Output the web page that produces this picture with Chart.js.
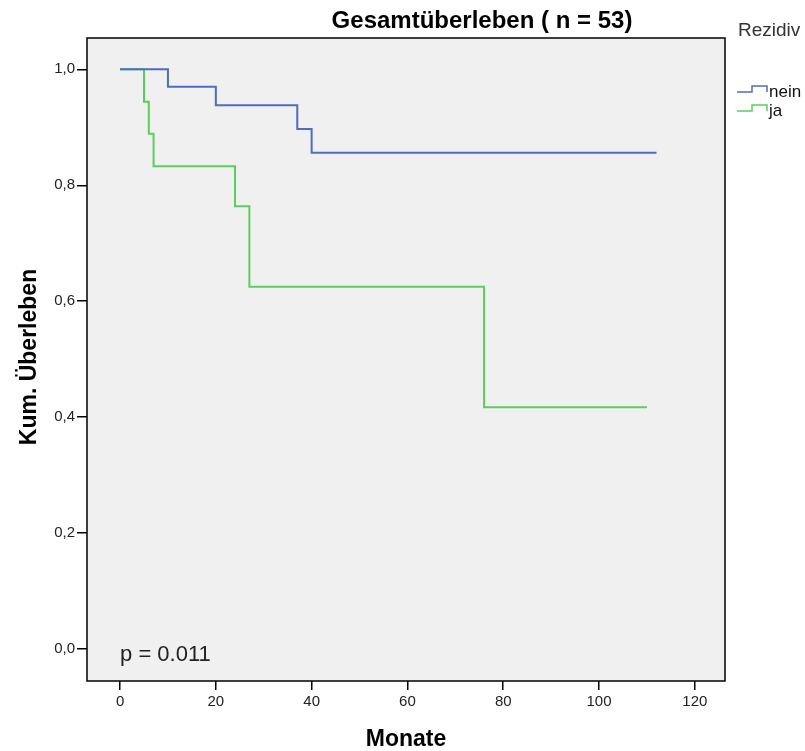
<!DOCTYPE html>
<html>
<head>
<meta charset="utf-8">
<script src="https://cdn.jsdelivr.net/npm/chart.js@4"></script>
<style>
  html, body { margin: 0; padding: 0; background: #fff; }
  #wrap { width: 805px; height: 751px; }
</style>
</head>
<body>
<div id="wrap"><canvas id="chartKM" width="805" height="751"></canvas></div>
<script>
const chartTitle = "Gesamtüberleben ( n = 53)";
const legendTitle = "Rezidiv";
const groupNames = ["nein", "ja"];
const groupColors = ["#4f6dc0", "#5ccd5c"];

// Monate / kum. Überleben
const neinTimes = [0, 10, 20, 37, 40, 112];
const neinSurv = [1.0, 0.970, 0.938, 0.897, 0.856, 0.856];
const jaTimes = [0, 5, 6, 7, 24, 27, 76, 110];
const jaSurv = [1.0, 0.944, 0.889, 0.833, 0.764, 0.625, 0.417, 0.417];

const xTicks = [0, 20, 40, 60, 80, 100, 120];
const yTicks = [0, 0.2, 0.4, 0.6, 0.8, 1.0];
const pText = "p = 0.011";

const font = "'Liberation Sans', Arial, sans-serif";

function toPoints(xs, ys) {
  return xs.map((x, i) => ({ x: x, y: ys[i] }));
}

const framePlugin = {
  id: "frame",
  beforeDraw(chart) {
    const { ctx, chartArea: a } = chart;
    ctx.save();
    ctx.fillStyle = "#f0f0f0";
    ctx.fillRect(a.left, a.top, a.right - a.left, a.bottom - a.top);
    ctx.restore();
  },
  afterDraw(chart) {
    const { ctx, chartArea: a } = chart;
    ctx.save();
    ctx.strokeStyle = "#000";
    ctx.lineWidth = 1.5;
    ctx.strokeRect(a.left, a.top, a.right - a.left, a.bottom - a.top);

    // title
    ctx.fillStyle = "#000";
    ctx.font = "bold 24px " + font;
    ctx.textAlign = "center";
    ctx.textBaseline = "middle";
    ctx.fillText(chartTitle, 482, 21);

    // axis titles
    ctx.font = "bold 23px " + font;
    ctx.fillText("Monate", (a.left + a.right) / 2, 740);
    ctx.save();
    ctx.translate(30, 357);
    ctx.rotate(-Math.PI / 2);
    ctx.fillText("Kum. Überleben", 0, 0);
    ctx.restore();

    // p value
    ctx.font = "22px " + font;
    ctx.fillStyle = "#222";
    ctx.textAlign = "left";
    ctx.fillText(pText, chart.scales.x.getPixelForValue(0), 655);

    // legend
    ctx.font = "19px " + font;
    ctx.fillStyle = "#333";
    ctx.fillText(legendTitle, 738, 31);
    ctx.font = "17px " + font;
    groupNames.forEach((name, i) => {
      const y = 92 + i * 19;
      ctx.strokeStyle = groupColors[i];
      ctx.lineWidth = 1.5;
      ctx.beginPath();
      ctx.moveTo(737, y);
      ctx.lineTo(752, y);
      ctx.lineTo(752, y - 6);
      ctx.lineTo(767, y - 6);
      ctx.lineTo(767, y);
      ctx.stroke();
      ctx.fillStyle = "#111";
      ctx.fillText(name, 769, y);
    });
    ctx.restore();
  }
};

new Chart(document.getElementById("chartKM"), {
  type: "line",
  data: {
    datasets: [
      {
        label: groupNames[0],
        data: toPoints(neinTimes, neinSurv),
        borderColor: groupColors[0],
        borderWidth: 2,
        stepped: true,
        pointRadius: 0,
        fill: false
      },
      {
        label: groupNames[1],
        data: toPoints(jaTimes, jaSurv),
        borderColor: groupColors[1],
        borderWidth: 2,
        stepped: true,
        pointRadius: 0,
        fill: false
      }
    ]
  },
  options: {
    responsive: false,
    animation: false,
    layout: { padding: { left: 0, right: 80, top: 38, bottom: 0 } },
    plugins: {
      legend: { display: false },
      tooltip: { enabled: false }
    },
    scales: {
      x: {
        type: "linear",
        min: -6.9,
        max: 126.3,
        afterBuildTicks: s => { s.ticks = xTicks.map(v => ({ value: v })); },
        afterFit: s => { s.height = 70; },
        grid: { display: true, drawOnChartArea: false, drawTicks: true, tickLength: 9, color: "#000", lineWidth: 1.5 },
        border: { display: false },
        ticks: { color: "#222", font: { family: font, size: 15 }, padding: 3, maxRotation: 0 }
      },
      y: {
        min: -0.055,
        max: 1.054,
        afterBuildTicks: s => { s.ticks = yTicks.map(v => ({ value: v })); },
        afterFit: s => { s.width = 87; },
        grid: { display: true, drawOnChartArea: false, drawTicks: true, tickLength: 10, color: "#000", lineWidth: 1.5 },
        border: { display: false },
        ticks: {
          color: "#222",
          font: { family: font, size: 15 },
          padding: 2,
          callback: v => v.toFixed(1).replace(".", ",")
        }
      }
    }
  },
  plugins: [framePlugin]
});
</script>
</body>
</html>
